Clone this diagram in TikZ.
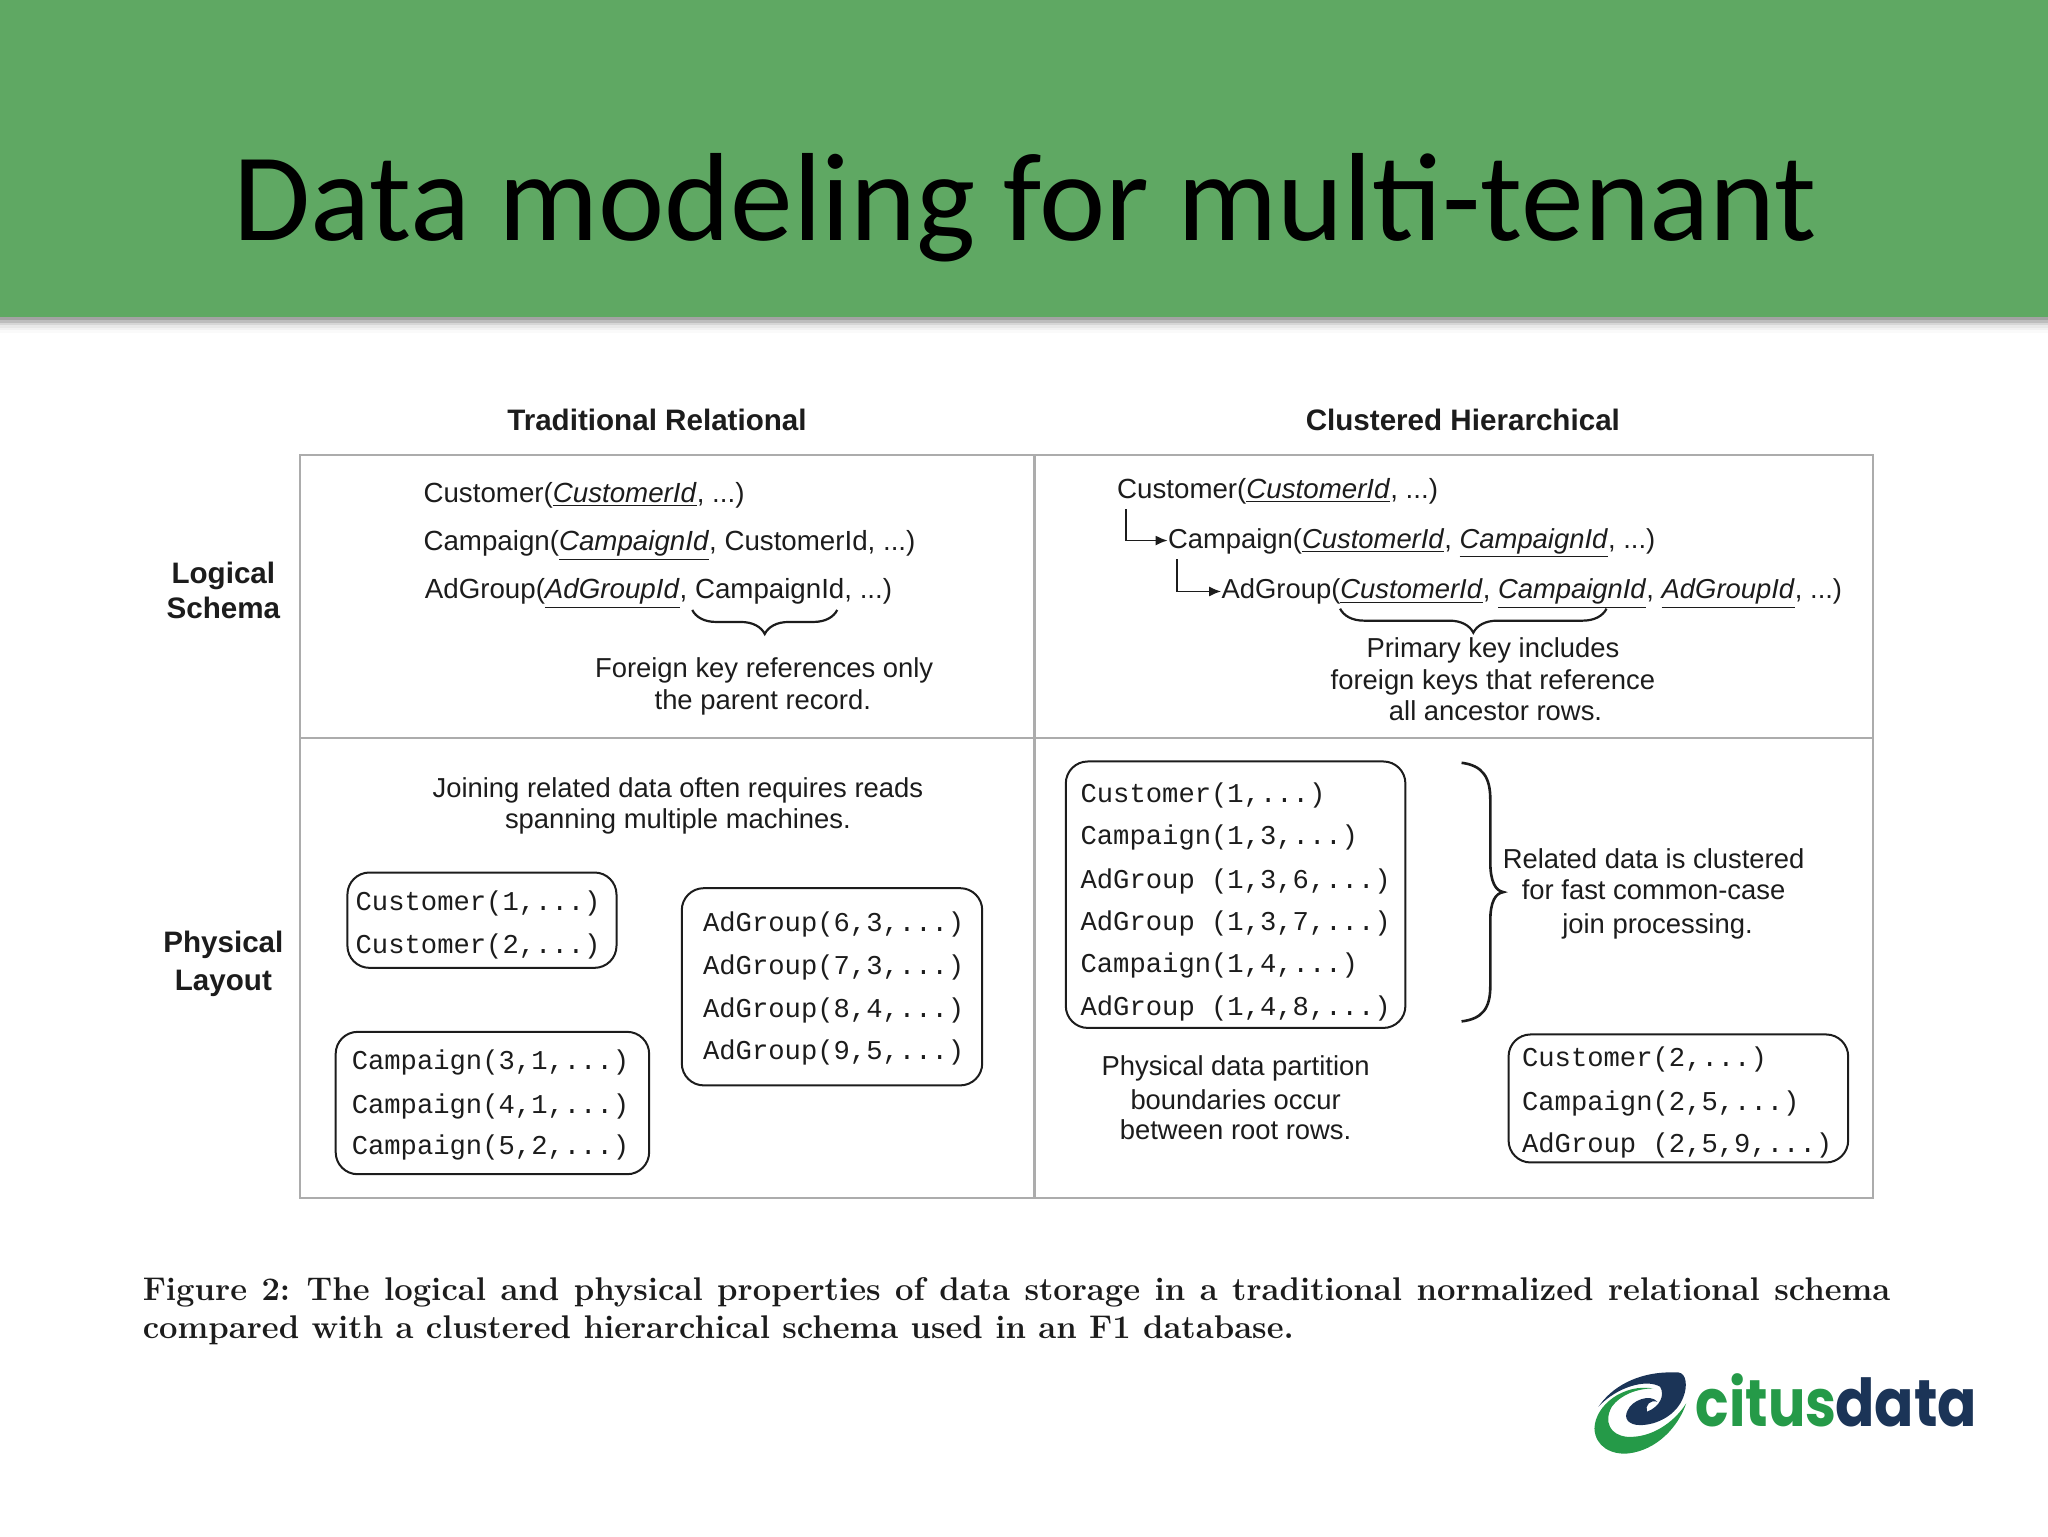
\documentclass[tikz,border=0pt]{standalone}
\usepackage{fontspec}
\setmainfont{Liberation Sans}
\newfontfamily\titlefont{Carlito}
\newfontfamily\logofont{Poppins}
\newfontfamily\capfont{Latin Modern Roman}
\setmonofont{Liberation Mono}
\usetikzlibrary{decorations.pathreplacing,arrows.meta}
\definecolor{hdrgreen}{HTML}{5FA863}
\definecolor{rulegray}{HTML}{ACACAC}
\definecolor{ink}{HTML}{1C1C1C}
\definecolor{logogreen}{HTML}{259A48}
\definecolor{logonavy}{HTML}{1B3457}
\newcommand{\ul}[1]{\underline{\textit{#1}}}
\tikzset{
  x=0.65306pt,y=-0.65306pt,
  lbl/.style={inner sep=0pt,yshift=-1.2pt,text=ink,font=\fontsize{13.7}{16}\selectfont,text height=10.5pt,text depth=3pt},
  lblw/.style={lbl,anchor=west},
  lblwide/.style={lblw,font=\fontsize{13.85}{16}\selectfont},
  hdr/.style={inner sep=0pt,yshift=-1.2pt,text=ink,font=\fontsize{14.8}{16}\selectfont\bfseries,text height=10.5pt,text depth=3pt},
  rec/.style={inner sep=0pt,yshift=-1.2pt,anchor=west,text=ink,font=\fontsize{13.6}{16}\selectfont\ttfamily,text height=10pt,text depth=3pt},
  recbox/.style={draw=ink,line width=1pt,rounded corners=11pt},
  gridline/.style={draw=rulegray,line width=1.2pt},
  captext/.style={inner sep=0pt,yshift=-1.8pt,anchor=west,text=ink,font=\capfont\fontsize{16.4}{18}\selectfont\bfseries,text height=10.5pt,text depth=3pt},
  elbow/.style={draw=ink,line width=0.9pt,-{Latex[length=6pt,width=5pt]}},
  bracec/.style={draw=ink,line width=1.1pt,decorate,decoration={brace,mirror,amplitude=12pt}},
}
\begin{document}
\begin{tikzpicture}
\useasboundingbox (0,0) rectangle (1568,1176);
% header
\fill[black!36] (0,243) rectangle (1568,245);
\fill[black!26] (0,245) rectangle (1568,247);
\fill[black!16] (0,247) rectangle (1568,249);
\fill[black!9] (0,249) rectangle (1568,251);
\fill[black!5] (0,251) rectangle (1568,253);
\fill[black!2] (0,253) rectangle (1568,255);
\fill[hdrgreen] (0,0) rectangle (1568,243);
\node[inner sep=0pt,text=black,font=\titlefont\fontsize{62.7}{66}\selectfont] (title) at (785,159) {Data modeling for multi-tenant};
% table
\draw[gridline] (229.5,348.5) rectangle (1434,917);
\draw[gridline] (792,348.5) -- (792,917);
\draw[gridline] (229.5,565) -- (1434,565);
% column/row headers
\node[hdr] (h1) at (503,322) {Traditional Relational};
\node[hdr] (h2) at (1120,322) {Clustered Hierarchical};
\node[hdr] (r1a) at (171,439) {Logical};
\node[hdr] (r1b) at (171,466) {Schema};
\node[hdr] (r2a) at (171,722) {Physical};
\node[hdr] (r2b) at (171,751) {Layout};
% left logical
\node[lblwide] (lc) at (324,377) {Customer(\ul{CustomerId}, ...)};
\node[lblwide] (lp) at (324,414) {Campaign(\ul{CampaignId}, CustomerId, ...)};
\node[lblwide] (la) at (325,451) {AdGroup(\ul{AdGroupId}, CampaignId, ...)};
\coordinate (fa) at (530,467);
\coordinate (fb) at (641,467);
\draw[bracec] (fa) -- (fb);
\node[lbl] (f1) at (585,511) {Foreign key references only};
\node[lbl] (f2) at (584,536) {the parent record.};
% right logical
\node[lblwide] (rc) at (855,374) {Customer(\ul{CustomerId}, ...)};
\node[lblw] (rp) at (894,412) {Campaign(\ul{CustomerId}, \ul{CampaignId}, ...)};
\node[lblw] (ra) at (935,451) {AdGroup(\ul{CustomerId}, \ul{CampaignId}, \ul{AdGroupId}, ...)};
\coordinate (e1) at (862,390);
\coordinate (e2) at (901,428);
\draw[elbow] (e1) |- (rp.west);
\draw[elbow] (e2) |- (ra.west);
\coordinate (pa) at (1026,466);
\coordinate (pb) at (1230,466);
\draw[bracec] (pa) -- (pb);
\node[lbl] (p1) at (1143,496) {Primary key includes};
\node[lbl] (p2) at (1143,520) {foreign keys that reference};
\node[lbl] (p3) at (1145,544) {all ancestor rows.};
% left physical
\node[lbl] (j1) at (519,603) {Joining related data often requires reads};
\node[lbl] (j2) at (519,627) {spanning multiple machines.};
\draw[recbox] (266,668) rectangle (472,741);
\node[rec] (m1) at (272,690) {Customer(1,...)};
\node[rec] (m2) at (272,723) {Customer(2,...)};
\draw[recbox] (522,680) rectangle (752,831);
\node[rec] (m3) at (538,706) {AdGroup(6,3,...)};
\node[rec] (m4) at (538,739) {AdGroup(7,3,...)};
\node[rec] (m5) at (538,772) {AdGroup(8,4,...)};
\node[rec] (m6) at (538,804) {AdGroup(9,5,...)};
\draw[recbox] (257,790) rectangle (497,899);
\node[rec] (m7) at (269,812) {Campaign(3,1,...)};
\node[rec] (m8) at (269,845) {Campaign(4,1,...)};
\node[rec] (m9) at (269,877) {Campaign(5,2,...)};
% right physical
\draw[recbox] (816,583) rectangle (1076,787);
\node[rec] (n1) at (827,607) {Customer(1,...)};
\node[rec] (n2) at (827,639) {Campaign(1,3,...)};
\node[rec] (n3) at (827,673) {AdGroup (1,3,6,...)};
\node[rec] (n4) at (827,705) {AdGroup (1,3,7,...)};
\node[rec] (n5) at (827,737) {Campaign(1,4,...)};
\node[rec] (n6) at (827,770) {AdGroup (1,4,8,...)};
\draw[draw=ink,line width=1.3pt] (1119,584) .. controls (1135,586) and (1141,595) .. (1141,612) -- (1141,660) .. controls (1141,675) and (1145,682) .. (1151,683) .. controls (1145,684) and (1141,690) .. (1141,705) -- (1141,755) .. controls (1141,772) and (1135,780) .. (1119,782);
\node[lbl] (k1) at (1266,657) {Related data is clustered};
\node[lbl] (k2) at (1266,681) {for fast common-case};
\node[lbl] (k3) at (1269,707) {join processing.};
\node[lbl] (b1) at (946,816) {Physical data partition};
\node[lbl] (b2) at (946,842) {boundaries occur};
\node[lbl] (b3) at (946,865) {between root rows.};
\draw[recbox] (1155,792) rectangle (1415,890);
\node[rec] (o1) at (1165,809) {Customer(2,...)};
\node[rec] (o2) at (1165,843) {Campaign(2,5,...)};
\node[rec] (o3) at (1165,875) {AdGroup (2,5,9,...)};
% caption
\node[captext] (c1) at (109,987) {\makebox[873.8pt][s]{Figure 2:\hspace{0.5em}The logical and physical properties of data storage in a traditional normalized relational schema}};
\node[captext] (c2) at (109,1016) {compared with a clustered hierarchical schema used in an F1 database.};
% logo
\begin{scope}[shift={(1186.8,1026)},scale=0.2552]
\fill[logonavy] (145,200) .. controls (185,140) and (260,100) .. (350,97) -- (385,97) .. controls (410,100) and (412,140) .. (400,170) .. controls (380,225) and (320,255) .. (270,255) .. controls (235,255) and (220,235) .. (232,212) .. controls (245,180) and (300,160) .. (322,185) .. controls (300,178) and (285,195) .. (290,215) .. controls (330,200) and (345,165) .. (330,140) .. controls (290,115) and (200,140) .. (145,200) -- cycle;
\fill[logogreen] (310,145) .. controls (220,130) and (135,195) .. (133,265) .. controls (135,320) and (185,345) .. (235,340) .. controls (320,330) and (385,260) .. (408,190) .. controls (370,250) and (300,295) .. (230,290) .. controls (180,285) and (160,245) .. (185,200) .. controls (210,165) and (260,145) .. (310,145) -- cycle;
\end{scope}
\node[inner sep=0pt,anchor=base west,text=logogreen,font=\logofont\fontsize{33}{36}\selectfont\bfseries] (lg1) at (1298,1092) {\scalebox{0.84}[1]{citus}};
\node[inner sep=0pt,anchor=base west,text=logonavy,font=\logofont\fontsize{33}{36}\selectfont\bfseries] (lg2) at (1405,1092) {\scalebox{0.88}[1]{data}};
\end{tikzpicture}
\end{document}
